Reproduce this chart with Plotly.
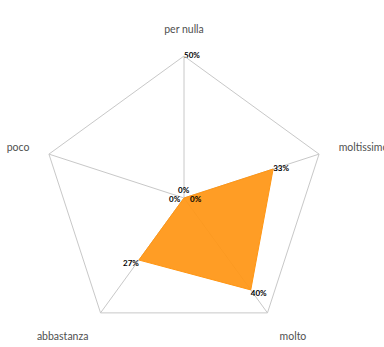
import plotly.graph_objects as go

categories = ["per nulla", "moltissimo", "molto", "abbastanza", "poco"]
values = [0, 33, 40, 27, 0]
value_labels = ["0%", "33%", "40%", "27%", "0%"]
label_positions = ["top center", "middle right", "bottom right", "bottom left", "middle left"]
radial_ticks = [0, 50]
radial_ticktext = ["0%", "50%"]

label_font = dict(family="Lato, sans-serif", size=8, color="#000000", weight="bold")

# polar placement (pixels in a 384x347 page)
W, H = 384, 347
CX, CY, R = 184, 198, 142

fig = go.Figure()
fig.add_trace(go.Scatterpolar(
    r=values + [values[0]],
    theta=categories + [categories[0]],
    mode="lines",
    fill="toself",
    fillcolor="rgba(255,150,20,0.93)",
    line=dict(color="#FF9614", width=1),
    hoverinfo="skip",
    showlegend=False,
))

nz_idx = [i for i, v in enumerate(values) if v != 0]
zero_idx = [i for i, v in enumerate(values) if v == 0]
fig.add_trace(go.Scatterpolar(
    r=[values[i] for i in nz_idx],
    theta=[categories[i] for i in nz_idx],
    mode="text",
    text=[value_labels[i] for i in nz_idx],
    textposition=[label_positions[i] for i in nz_idx],
    textfont=label_font,
    hoverinfo="skip",
    showlegend=False,
    cliponaxis=False,
))
# radial axis max label
fig.add_trace(go.Scatterpolar(
    r=radial_ticks[1:],
    theta=[categories[0]],
    mode="text",
    text=radial_ticktext[1:],
    textposition="middle right",
    textfont=label_font,
    hoverinfo="skip",
    showlegend=False,
    cliponaxis=False,
))

# labels sitting at the centre (zero values + radial 0% tick)
shifts = {"top center": (0, 8), "middle left": (-9, -1), "middle right": (12, -1)}
centre_labels = [(value_labels[i], label_positions[i]) for i in zero_idx] + [(radial_ticktext[0], "middle right")]
for txt, pos in centre_labels:
    dx, dy = shifts[pos]
    fig.add_annotation(
        x=CX / W, y=1 - CY / H, xref="paper", yref="paper",
        text=txt, showarrow=False, xshift=dx, yshift=dy,
        font=label_font, xanchor="center", yanchor="middle",
    )

fig.update_layout(
    width=W, height=H,
    margin=dict(l=0, r=0, t=0, b=0),
    paper_bgcolor="white",
    polar=dict(
        domain=dict(x=[(CX - R) / W, (CX + R) / W], y=[1 - (CY + R) / H, 1 - (CY - R) / H]),
        bgcolor="white",
        gridshape="linear",
        angularaxis=dict(
            direction="clockwise",
            rotation=90,
            categoryorder="array",
            categoryarray=categories,
            showline=True,
            linecolor="#C8C8C8",
            linewidth=1,
            showgrid=True,
            gridcolor="#C8C8C8",
            gridwidth=1,
            ticks="outside",
            ticklen=18,
            tickcolor="rgba(0,0,0,0)",
            tickfont=dict(family="Lato, sans-serif", size=10.5, color="#505050"),
        ),
        radialaxis=dict(
            range=[0, 50],
            angle=90,
            tickvals=radial_ticks,
            showticklabels=False,
            showline=False,
            showgrid=True,
            gridcolor="#C8C8C8",
            ticks="",
        ),
    ),
)

fig.write_html(
    "out.html",
    config={"displayModeBar": False, "staticPlot": True},
    post_script="document.body.style.margin='0';document.body.style.overflow='hidden';",
)
